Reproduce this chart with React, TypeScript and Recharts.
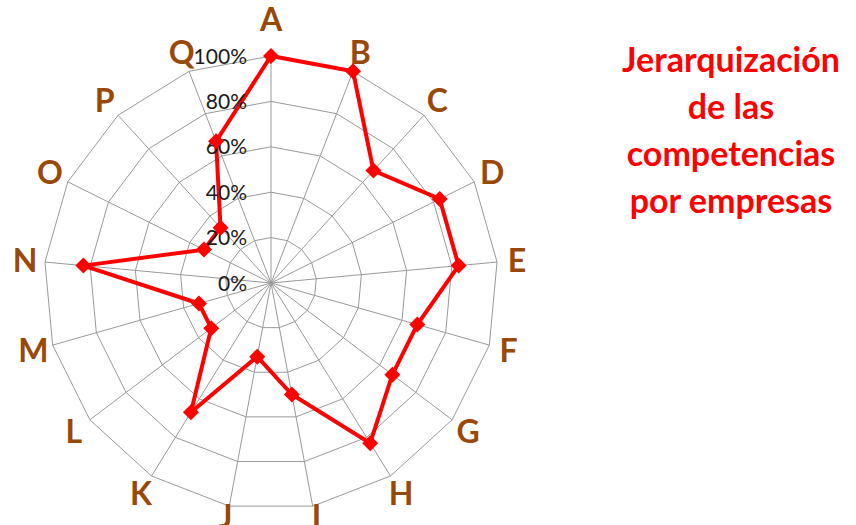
import { RadarChart, Radar, PolarGrid, PolarAngleAxis, PolarRadiusAxis } from "recharts";

// competencias A..Q and their share (%)
const categories = ["A", "B", "C", "D", "E", "F", "G", "H", "I", "J", "K", "L", "M", "N", "O", "P", "Q"];
const values = [100, 100, 67, 83, 83, 67, 67, 83, 50, 33, 67, 33, 33, 83, 33, 33, 67];
const radiusTicks = [0, 20, 40, 60, 80, 100];
const titleLines = ["Jerarquización", "de las", "competencias", "por empresas"];

const CX = 271;
const CY = 283;
const OUTER = 227;

const data = categories.map((name, i) => ({ name, value: values[i] }));

const AngleTick = (props: any) => {
  const { x, y, payload, index } = props;
  // push label further out from the center
  const dx = x - CX;
  const dy = y - CY;
  const len = Math.sqrt(dx * dx + dy * dy) || 1;
  const r = 247;
  let px = CX + (dx / len) * r;
  let py = CY + (dy / len) * r;
  const cos = -dy / len;
  if (index === 0) py -= 17;
  if (cos < -0.9) py -= 9;
  return (
    <text
      x={px}
      y={py}
      dy="0.36em"
      textAnchor="middle"
      fill="#984807"
      fontFamily="Lato, sans-serif"
      fontWeight="bold"
      fontSize={32}
    >
      {payload.value}
    </text>
  );
};

const RadiusTick = (props: any) => {
  const { x, y, payload } = props;
  return (
    <text
      x={x - 24}
      y={y}
      dy="0.36em"
      textAnchor="end"
      fill="#1a1a1a"
      fontFamily="Lato, sans-serif"
      fontSize={21}
    >
      {payload.value}%
    </text>
  );
};

const Diamond = (props: any) => {
  const { cx, cy, index } = props;
  const s = 8;
  return (
    <path
      key={`d-${index}`}
      d={`M${cx},${cy - s} L${cx + s},${cy} L${cx},${cy + s} L${cx - s},${cy} Z`}
      fill="#ff0000"
      stroke="none"
    />
  );
};

export default function App() {
  return (
    <div style={{ position: "absolute", left: 0, top: 0, width: 856, height: 525, background: "#fff", overflow: "hidden" }}>
      <RadarChart
        width={856}
        height={525}
        data={data}
        cx={CX}
        cy={CY}
        outerRadius={OUTER}
        margin={{ top: 0, right: 0, bottom: 0, left: 0 }}
      >
        <PolarGrid gridType="polygon" stroke="#999999" strokeWidth={1} />
        <PolarAngleAxis dataKey="name" tick={AngleTick} tickLine={false} axisLine={false} />
        <PolarRadiusAxis
          angle={90}
          domain={[0, 100]}
          ticks={radiusTicks}
          tickCount={6}
          axisLine={false}
          tick={RadiusTick}
        />
        <Radar
          dataKey="value"
          stroke="#ff0000"
          strokeWidth={4}
          fill="none"
          fillOpacity={0}
          dot={Diamond}
          isAnimationActive={false}
        />
      </RadarChart>
      <div
        style={{
          position: "absolute",
          left: 606,
          top: 35,
          width: 250,
          textAlign: "center",
          color: "#ff0000",
          fontFamily: "Lato, sans-serif",
          fontWeight: "bold",
          fontSize: 34,
          lineHeight: "47px",
        }}
      >
        {titleLines.map((t) => (
          <div key={t}>{t}</div>
        ))}
      </div>
    </div>
  );
}
